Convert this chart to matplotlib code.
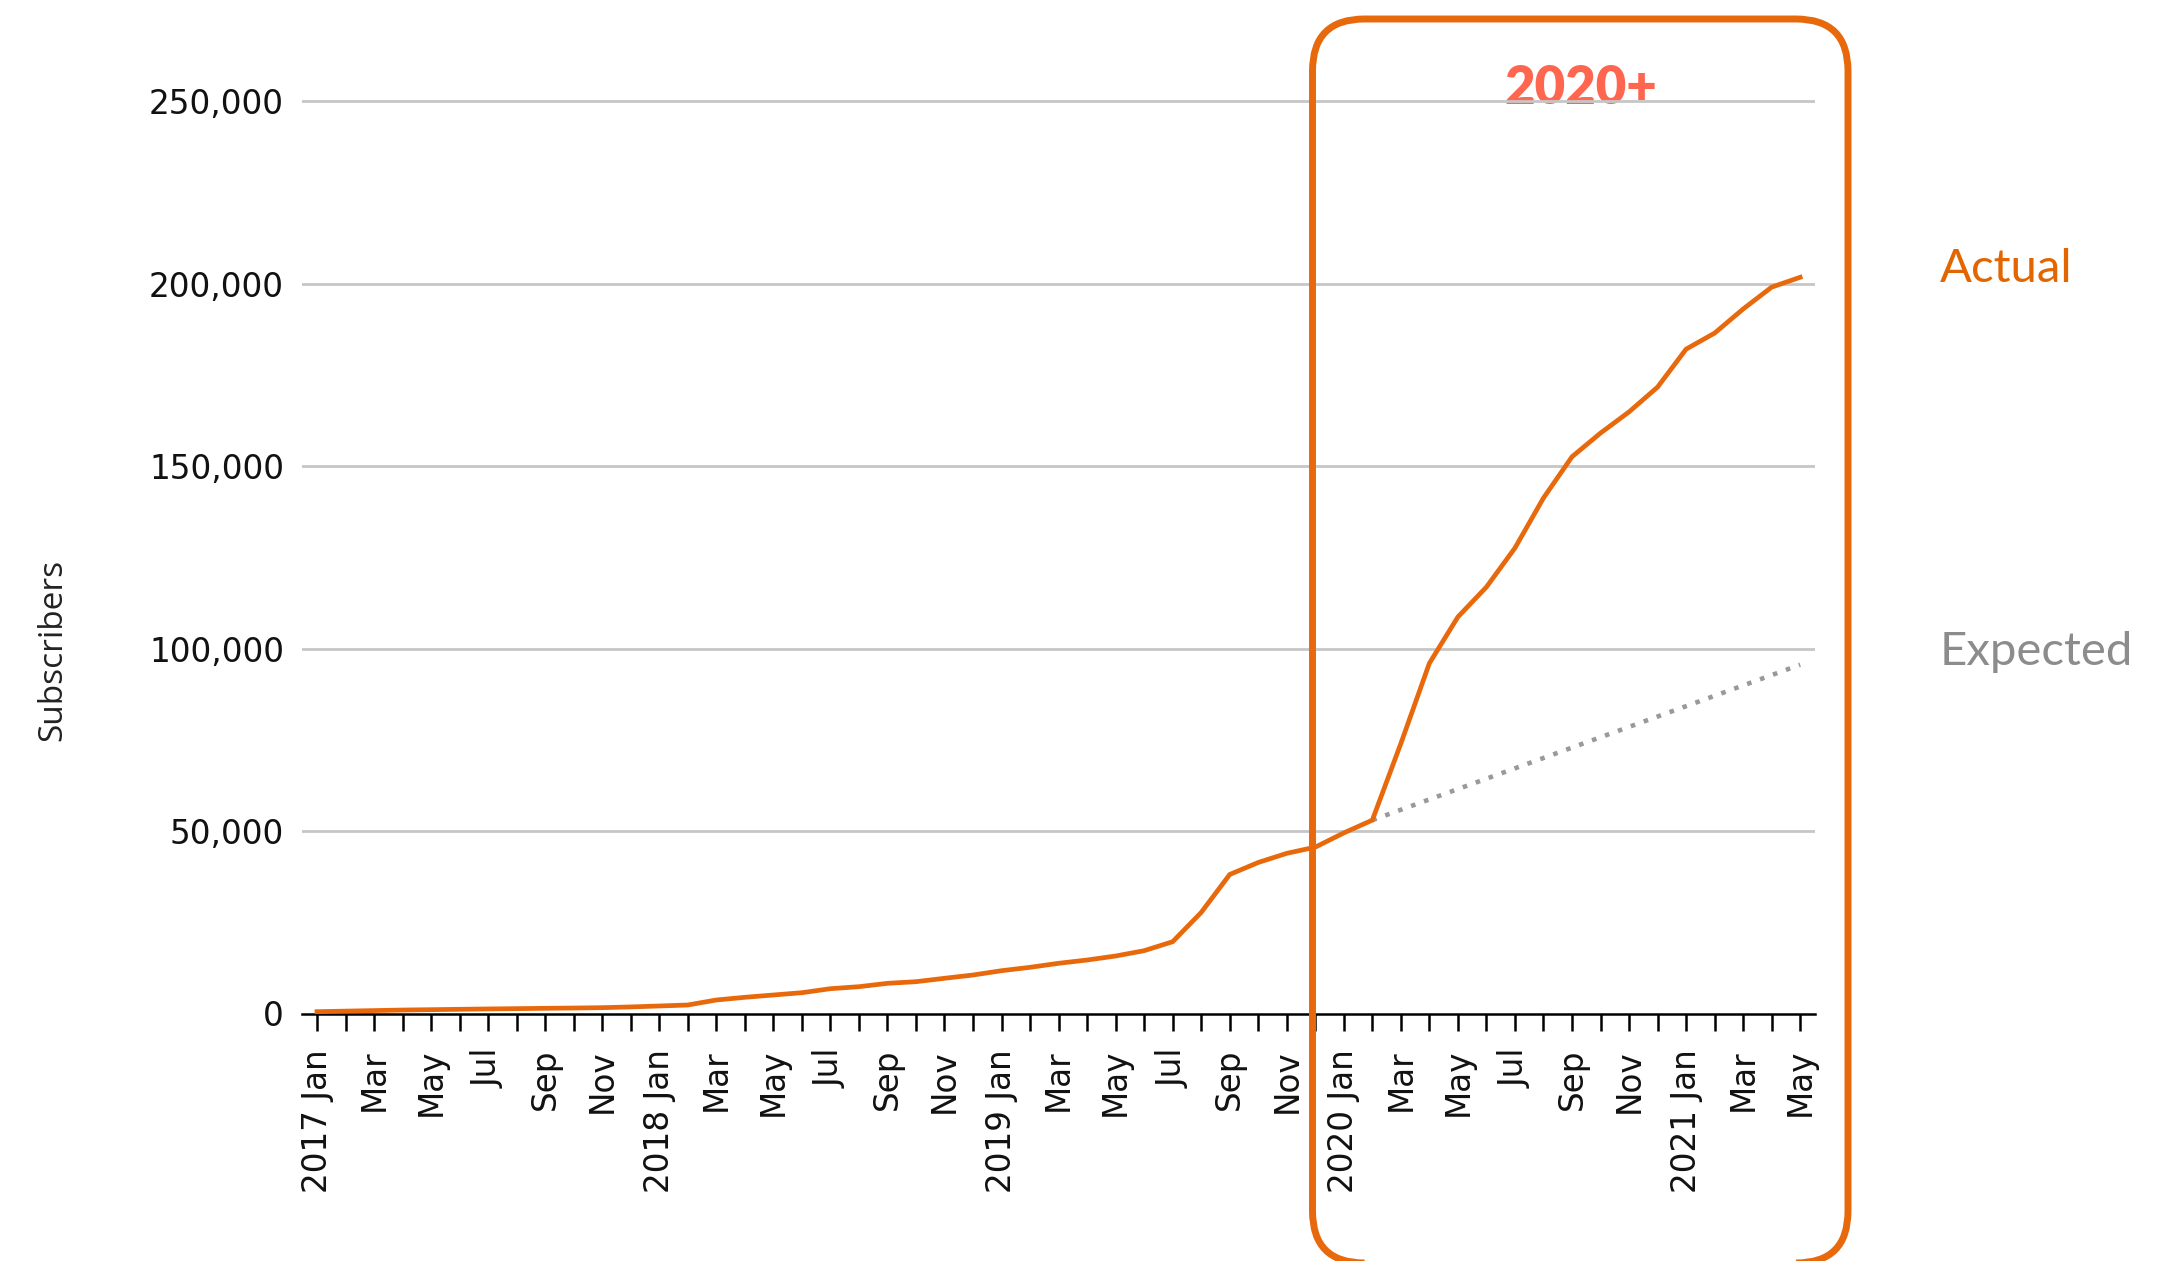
import matplotlib

matplotlib.use("Agg")
import matplotlib.pyplot as plt
import pandas as pd
from matplotlib.patches import FancyBboxPatch
from matplotlib.ticker import FuncFormatter

# monthly subscriber counts, 2017 Jan .. 2021 May
months = pd.date_range("2017-01-01", "2021-05-01", freq="MS")
actual = [
    500, 650, 800, 950, 1050, 1150, 1250, 1330, 1420, 1500, 1600, 1800,
    2060, 2330, 3700, 4440, 5070, 5700, 6800, 7350, 8270, 8720, 9650, 10550,
    11730, 12660, 13760, 14660, 15760, 17220, 19680, 27700, 38100, 41400, 43900, 45600,
    49500, 53000, 74000, 96000, 108700, 116900, 127600, 141300, 152600, 159100, 164900, 171700,
    182100, 186500, 193100, 199100, 201800,
]
expected_months = ["2020-02", "2021-05"]
expected = [53000, 95600]
y_ticks = [0, 50000, 100000, 150000, 200000, 250000]

ORANGE = "#e8690c"
GREY = "#999999"

W, H, DPI = 2177, 1261, 100


def month_label(d):
    if d.month % 2 == 0:
        return ""
    if d.month == 1:
        return f"{d.year} Jan"
    return d.strftime("%b")


fig = plt.figure(figsize=(W / DPI, H / DPI), dpi=DPI)
ax = fig.add_axes([302 / W, 1 - 1013.5 / H, 1513 / W, (1013.5 - 83.2) / H])
ax.patch.set_alpha(0)

x = list(range(len(months)))
ax.plot(x, actual, color=ORANGE, lw=3.4, zorder=3, solid_joinstyle="miter")
ex = [list(months.strftime("%Y-%m")).index(m) for m in expected_months]
ax.plot(ex, expected, color=GREY, lw=3.3, dashes=(1, 2),
        dash_capstyle="butt", zorder=2)

ax.set_xlim(-0.526, 52.52)
ax.set_ylim(0, 255000)
ax.set_yticks(y_ticks)
ax.yaxis.set_major_formatter(FuncFormatter(lambda v, _: f"{int(v):,}"))
ax.set_xticks(x)
ax.set_xticklabels([month_label(d) for d in months], rotation=90,
                   ha="center", va="top")

for y in y_ticks[1:]:
    ax.axhline(y, color="#c6c6c6", lw=2, zorder=1)

for s in ("top", "right", "left"):
    ax.spines[s].set_visible(False)
ax.spines["bottom"].set_linewidth(1.8)
ax.spines["bottom"].set_color("black")
ax.tick_params(axis="y", length=0, pad=13, labelsize=23.5, labelcolor="#111111")
ax.tick_params(axis="x", length=12.5, width=1.8, pad=13, labelsize=23.5,
               labelcolor="#111111")

fig.text(53 / W, 1 - 650 / H, "Subscribers", rotation=90, ha="center",
         va="center", fontsize=24, family=["Open Sans", "DejaVu Sans"],
         color="#222222")

# highlighted 2020+ period
box = FancyBboxPatch((1312.5 / DPI, -2 / DPI), (1848 - 1312.5) / DPI,
                     (1263 - 19) / DPI,
                     boxstyle=f"round,pad=0,rounding_size={52 / DPI}",
                     transform=fig.dpi_scale_trans, fill=False,
                     edgecolor=ORANGE, lw=5, zorder=5)
fig.add_artist(box)

fig.text(1581 / W, 1 - 88 / H, "2020+", ha="center", va="center",
         fontsize=38, fontweight="heavy", color="#ff6650",
         family=["Lato", "DejaVu Sans"], zorder=-1)
fig.text(1940 / W, 1 - 282 / H, "Actual", ha="left", va="baseline",
         fontsize=34, color="#e26500", family=["Lato", "DejaVu Sans"])
fig.text(1940 / W, 1 - 665 / H, "Expected", ha="left", va="baseline",
         fontsize=34, color="#8c8c8c", family=["Lato", "DejaVu Sans"])

fig.savefig("out.png", dpi=DPI, facecolor="white")
